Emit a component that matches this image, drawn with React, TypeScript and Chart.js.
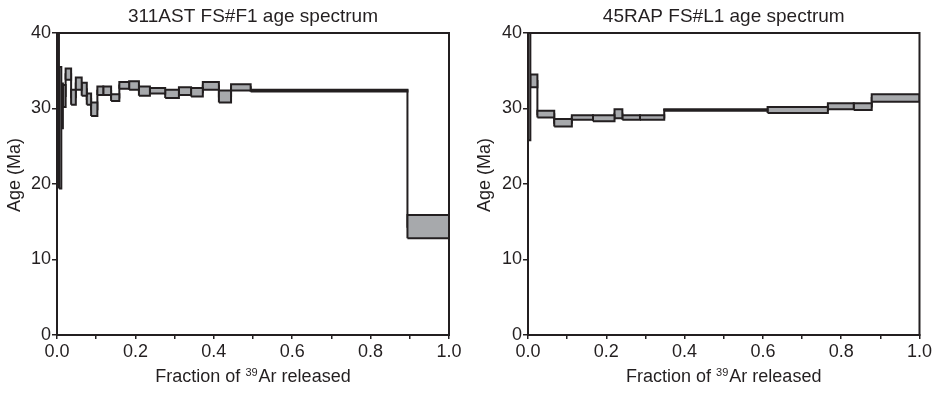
import React, { useEffect, useRef } from 'react';
import { Chart, registerables } from 'chart.js';

Chart.register(...registerables);

// ---- Data (fraction boundaries, age low / high per heating step) ----
const leftTitle = '311AST FS#F1 age spectrum';
const leftFrac = [0, 0.005, 0.011, 0.015, 0.022, 0.036, 0.048, 0.063, 0.076, 0.087, 0.103, 0.118, 0.138, 0.159, 0.184, 0.209, 0.237, 0.276, 0.311, 0.342, 0.372, 0.413, 0.444, 0.494, 0.894, 1.0];
const leftLow = [19.6, 19.4, 27.4, 30.2, 33.8, 30.5, 32.5, 31.7, 30.5, 29.0, 31.8, 31.8, 31.0, 32.6, 32.5, 31.7, 32.0, 31.4, 31.8, 31.6, 32.5, 30.8, 32.4, 32.25, 12.8];
const leftHigh = [42, 35.5, 33.3, 33.1, 35.3, 32.5, 34.1, 33.4, 32.0, 30.8, 32.9, 32.9, 31.9, 33.5, 33.6, 32.9, 32.7, 32.5, 32.8, 32.7, 33.5, 32.4, 33.2, 32.5, 15.9];

const rightTitle = '45RAP FS#L1 age spectrum';
const rightFrac = [0, 0.006, 0.024, 0.067, 0.112, 0.166, 0.221, 0.241, 0.286, 0.348, 0.612, 0.766, 0.832, 0.878, 1.0];
const rightLow = [25.8, 32.8, 28.8, 27.6, 28.5, 28.3, 28.7, 28.5, 28.5, 29.7, 29.4, 29.9, 29.8, 30.9];
const rightHigh = [42, 34.5, 29.7, 28.6, 29.1, 29.1, 29.9, 29.1, 29.1, 29.9, 30.2, 30.7, 30.7, 31.9];

const yTicks = [0, 10, 20, 30, 40];
const xLabelTicks = [0, 0.2, 0.4, 0.6, 0.8, 1.0];
const xAxisTitleParts = ['Fraction of ', '39', 'Ar released'];
const yAxisTitle = 'Age (Ma)';

const INK = '#231f20';
const FILL = '#a7a9ac';
const FONT = "'Liberation Sans', Arial, Helvetica, sans-serif";

function buildDatasets(frac: number[], low: number[], high: number[]) {
  const sets: any[] = [];
  for (let i = 0; i < low.length; i++) {
    const x0 = frac[i];
    const x1 = frac[i + 1];
    sets.push({
      type: 'line',
      data: [
        { x: x0, y: low[i] },
        { x: x1, y: low[i] },
        { x: x1, y: high[i] },
        { x: x0, y: high[i] },
        { x: x0, y: low[i] },
      ],
      borderColor: INK,
      backgroundColor: FILL,
      borderWidth: 2,
      borderJoinStyle: 'miter',
      fill: 'shape',
      pointRadius: 0,
      tension: 0,
      order: 0,
    });
  }
  const conn: { x: number; y: number }[] = [];
  for (let i = 0; i < low.length; i++) {
    const mid = (low[i] + high[i]) / 2;
    conn.push({ x: frac[i], y: mid });
    conn.push({ x: frac[i + 1], y: mid });
  }
  sets.push({
    type: 'line',
    data: conn,
    borderColor: INK,
    borderWidth: 2,
    fill: false,
    pointRadius: 0,
    tension: 0,
    order: 1,
  });
  return sets;
}

const framePlugin = {
  id: 'frame',
  afterDatasetsDraw(chart: any) {
    const { ctx, chartArea } = chart;
    ctx.save();
    ctx.strokeStyle = INK;
    ctx.lineWidth = 2;
    ctx.strokeRect(chartArea.left, chartArea.top, chartArea.right - chartArea.left, chartArea.bottom - chartArea.top);
    ctx.restore();
  },
};

const axisTitlePlugin = {
  id: 'axisTitles',
  afterDraw(chart: any) {
    const { ctx, chartArea } = chart;
    ctx.save();
    ctx.fillStyle = INK;
    ctx.textBaseline = 'alphabetic';
    // x axis title with superscript
    const big = `18px ${FONT}`;
    const small = `11px ${FONT}`;
    ctx.font = big;
    const w0 = ctx.measureText(xAxisTitleParts[0]).width;
    const w2 = ctx.measureText(xAxisTitleParts[2]).width;
    ctx.font = small;
    const w1 = ctx.measureText(xAxisTitleParts[1]).width + 1;
    const total = w0 + w1 + w2;
    const cx = (chartArea.left + chartArea.right) / 2;
    let x = cx - total / 2;
    const base = 381.5;
    ctx.textAlign = 'left';
    ctx.font = big;
    ctx.fillText(xAxisTitleParts[0], x, base);
    x += w0;
    ctx.font = small;
    ctx.fillText(xAxisTitleParts[1], x, base - 6);
    x += w1;
    ctx.font = big;
    ctx.fillText(xAxisTitleParts[2], x, base);
    // y axis title
    ctx.translate(15.5, chartArea.top + (chartArea.bottom - chartArea.top) * 0.47);
    ctx.rotate(-Math.PI / 2);
    ctx.textAlign = 'center';
    ctx.textBaseline = 'middle';
    ctx.font = big;
    ctx.fillText(yAxisTitle, 0, 0);
    ctx.restore();
  },
};

function Spectrum(props: { title: string; frac: number[]; low: number[]; high: number[]; width: number; yWidth: number; padRight: number; left: number }) {
  const ref = useRef<HTMLCanvasElement | null>(null);
  useEffect(() => {
    if (!ref.current) return;
    const chart = new Chart(ref.current, {
      type: 'line',
      data: { datasets: buildDatasets(props.frac, props.low, props.high) },
      plugins: [framePlugin, axisTitlePlugin],
      options: {
        animation: false,
        responsive: false,
        maintainAspectRatio: false,
        events: [],
        layout: { padding: { left: 0, right: props.padRight, top: 0, bottom: 0 } },
        plugins: {
          legend: { display: false },
          tooltip: { enabled: false },
          title: {
            display: true,
            text: props.title,
            fullSize: false,
            color: INK,
            font: { family: FONT, size: 19, weight: 'normal', lineHeight: 1.2 },
            padding: { top: 5, bottom: 5.2 },
          },
        },
        scales: {
          x: {
            type: 'linear',
            min: 0,
            max: 1,
            afterFit: (s: any) => { s.height = 58; },
            afterBuildTicks: (s: any) => {
              const t: any[] = [];
              for (let k = 0; k <= 10; k++) t.push({ value: k / 10 });
              s.ticks = t;
            },
            ticks: {
              autoSkip: false,
              maxRotation: 0,
              padding: 2,
              color: INK,
              font: { family: FONT, size: 18 },
              callback: (v: any) => {
                const n = Math.round(Number(v) * 10);
                const match = xLabelTicks.find((t) => Math.round(t * 10) === n);
                return match !== undefined ? match.toFixed(1) : '';
              },
            },
            grid: { display: true, drawOnChartArea: false, drawTicks: true, tickLength: 4, color: INK, lineWidth: 1.5 },
            border: { display: true, color: INK, width: 2 },
            title: { display: false },
          },
          y: {
            type: 'linear',
            min: 0,
            max: 40,
            afterFit: (s: any) => { s.width = props.yWidth; },
            afterBuildTicks: (s: any) => { s.ticks = yTicks.map((v) => ({ value: v })); },
            ticks: { padding: 1, color: INK, font: { family: FONT, size: 18 }, callback: (v: any) => String(v) },
            grid: { display: true, drawOnChartArea: false, drawTicks: true, tickLength: 5, color: INK, lineWidth: 1.5 },
            border: { display: true, color: INK, width: 2 },
            title: { display: false },
          },
        },
      } as any,
    });
    return () => chart.destroy();
  }, []);
  return (
    <canvas
      ref={ref}
      width={props.width}
      height={393}
      style={{ position: 'absolute', left: props.left, top: 0, width: props.width, height: 393 }}
    />
  );
}

export default function App() {
  return (
    <div style={{ position: 'absolute', left: 0, top: 0, width: 934, height: 393, background: '#fff' }}>
      <Spectrum title={leftTitle} frac={leftFrac} low={leftLow} high={leftHigh} width={467} yWidth={57} padRight={18} left={0} />
      <Spectrum title={rightTitle} frac={rightFrac} low={rightLow} high={rightHigh} width={464} yWidth={58} padRight={14} left={470} />
    </div>
  );
}
